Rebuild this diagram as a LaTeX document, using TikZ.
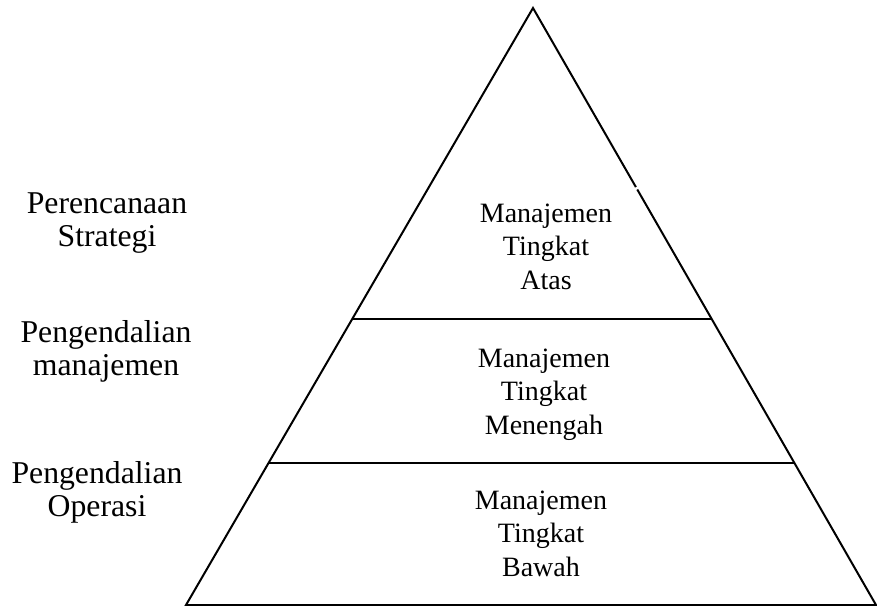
\documentclass[tikz,border=0pt]{standalone}
\usepackage{fontspec}
\setmainfont{Liberation Serif}
\usetikzlibrary{calc}
\begin{document}
\begin{tikzpicture}[x=0.75pt,y=-0.75pt,
  edge/.style={line width=1.5pt, line join=miter},
  divider/.style={line width=1.4pt},
  % the base anchor of a multi-line node sits on its last line
  side/.style={align=center, anchor=base, inner sep=0pt,
    font=\fontsize{23.8pt}{24.75pt}\selectfont},
  level/.style={align=center, anchor=base, inner sep=0pt,
    font=\fontsize{21pt}{25.1pt}\selectfont}]
  \useasboundingbox (0,0) rectangle (877,606);

  % corners of the pyramid
  \coordinate (apex) at (533,8);
  \coordinate (bl) at (186,605);
  \coordinate (br) at (876,605);

  % small break in the right flank
  \coordinate (gapA) at ($(apex)!0.300!(br)$);
  \coordinate (gapB) at ($(apex)!0.304!(br)$);

  % outline of the pyramid
  \draw[edge] (gapB) -- (br) -- (bl) -- (apex) -- (gapA);

  % dividing lines between the levels
  \coordinate (l1) at ($(apex)!0.5209!(bl)$);
  \coordinate (r1) at ($(apex)!0.5209!(br)$);
  \coordinate (l2) at ($(apex)!0.7621!(bl)$);
  \coordinate (r2) at ($(apex)!0.7621!(br)$);
  \draw[divider] (l1) -- (r1);
  \draw[divider] (l2) -- (r2);

  % management levels inside the pyramid
  \node[level] (top) at (546,289) {Manajemen\\Tingkat\\Atas};
  \node[level] (mid) at (544,434) {Manajemen\\Tingkat\\Menengah};
  \node[level] (low) at (541,576) {Manajemen\\Tingkat\\Bawah};

  % activities beside each level
  \node[side] (plan) at (107,246) {Perencanaan\\Strategi};
  \node[side] (mgmt) at (106,375) {Pengendalian\\manajemen};
  \node[side] (ops)  at (97,516)  {Pengendalian\\Operasi};
\end{tikzpicture}
\end{document}
